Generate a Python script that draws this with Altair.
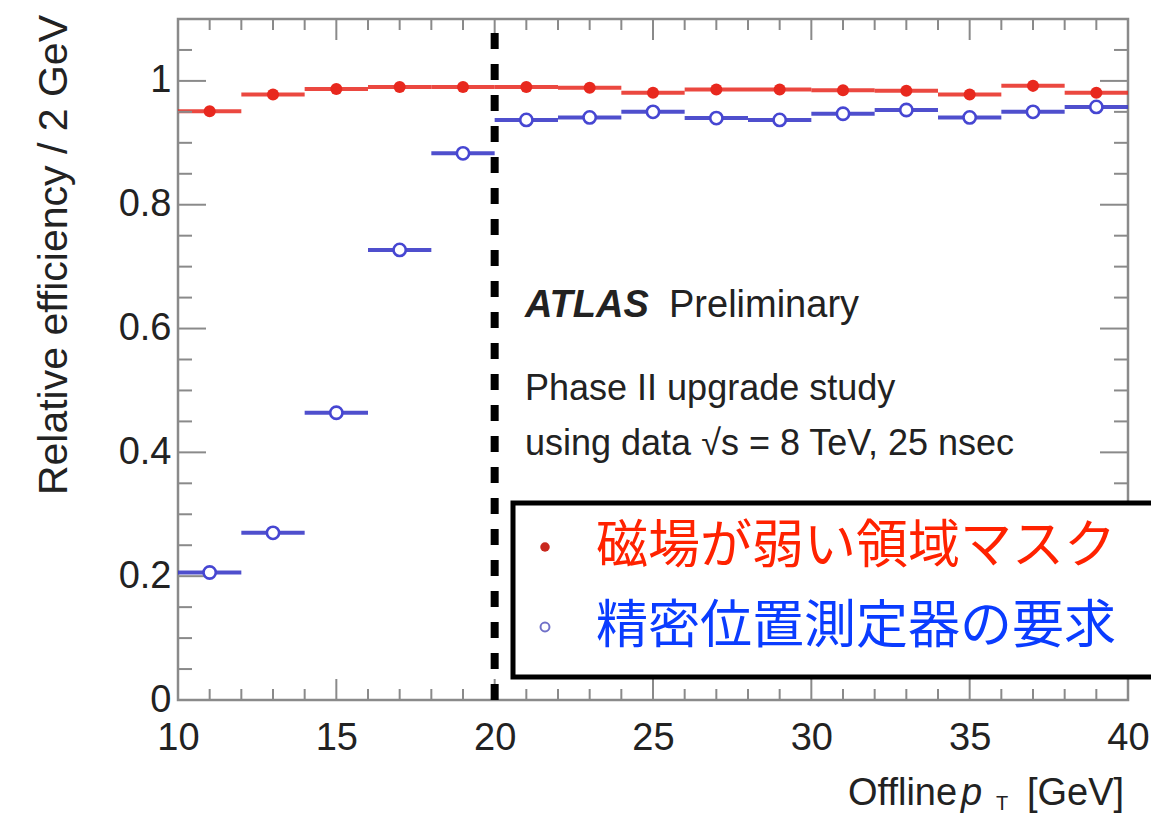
import altair as alt
import pandas as pd

# ---------------- data ----------------
pt_center = [11, 13, 15, 17, 19, 21, 23, 25, 27, 29, 31, 33, 35, 37, 39]
pt_lo = [10, 12, 14, 16, 18, 20, 22, 24, 26, 28, 30, 32, 34, 36, 38]
pt_hi = [12, 14, 16, 18, 20, 22, 24, 26, 28, 30, 32, 34, 36, 38, 40]
eff_mask = [0.951, 0.978, 0.987, 0.990, 0.990, 0.990, 0.989, 0.981,
            0.986, 0.986, 0.985, 0.984, 0.978, 0.992, 0.981]
eff_precision = [0.206, 0.270, 0.464, 0.727, 0.883, 0.937, 0.941, 0.950,
                 0.940, 0.937, 0.947, 0.953, 0.941, 0.950, 0.958]

y_major = [0, 0.2, 0.4, 0.6, 0.8, 1.0]
y_minor = [0.05, 0.1, 0.15, 0.25, 0.3, 0.35, 0.45, 0.5, 0.55, 0.65, 0.7,
           0.75, 0.85, 0.9, 0.95, 1.05]
x_major = [10, 15, 20, 25, 30, 35, 40]
x_minor = [11, 12, 13, 14, 16, 17, 18, 19, 21, 22, 23, 24, 26, 27, 28, 29,
           31, 32, 33, 34, 36, 37, 38, 39]
cut_pt = 20

label_mask = "磁場が弱い領域マスク"
label_precision = "精密位置測定器の要求"

# ---------------- style ----------------
W, H = 950, 681
RED = "#e8281e"
BLUE = "#3c3cc8"
FRAME = "#8a8a8a"
FONT = "Liberation Sans"
JFONT = "Noto Sans CJK JP"

xs = alt.Scale(domain=[10, 40], nice=False, zero=False)
ys = alt.Scale(domain=[0, 1.1], nice=False, zero=False)

df_mask = pd.DataFrame({"pt": pt_center, "lo": pt_lo, "hi": pt_hi, "eff": eff_mask})
df_prec = pd.DataFrame({"pt": pt_center, "lo": pt_lo, "hi": pt_hi, "eff": eff_precision})

xaxis = alt.Axis(values=x_major, format="d", labelFontSize=38, labelFont=FONT,
                 labelColor="#222", labelPadding=19, ticks=False, tickSize=0,
                 domain=False, grid=False, title=None, labelFlush=False)
yaxis = alt.Axis(values=y_major, format="~g", labelFontSize=38, labelFont=FONT,
                 labelColor="#222", labelPadding=7, ticks=False, tickSize=0,
                 domain=False, grid=False, title=None)

base_m = alt.Chart(df_mask)
base_p = alt.Chart(df_prec)

err_m = base_m.mark_rule(color=RED, strokeWidth=4, opacity=0.85).encode(
    x=alt.X("lo:Q", scale=xs, axis=xaxis), x2="hi:Q",
    y=alt.Y("eff:Q", scale=ys, axis=yaxis))
err_p = base_p.mark_rule(color=BLUE, strokeWidth=4, opacity=0.9).encode(
    x=alt.X("lo:Q", scale=xs), x2="hi:Q", y=alt.Y("eff:Q", scale=ys))
pts_m = base_m.mark_circle(color=RED, size=145, opacity=1).encode(
    x=alt.X("pt:Q", scale=xs), y=alt.Y("eff:Q", scale=ys))
pts_p = base_p.mark_point(shape="circle", filled=True, fill="white", stroke="#4646d2",
                          strokeWidth=2.6, size=150, opacity=1).encode(
    x=alt.X("pt:Q", scale=xs), y=alt.Y("eff:Q", scale=ys))

cut = alt.Chart(pd.DataFrame({"pt": [cut_pt]})).mark_rule(
    color="black", strokeWidth=8, strokeDash=[16, 15]).encode(
    x=alt.X("pt:Q", scale=xs), y=alt.datum(0, scale=ys), y2=alt.datum(1.1))

# ---- inward ticks on all four sides ----
dy_maj = pd.DataFrame({"v": y_major})
dy_min = pd.DataFrame({"v": y_minor})
dx_maj = pd.DataFrame({"v": x_major})
dx_min = pd.DataFrame({"v": x_minor})
tk = dict(color=FRAME, strokeWidth=2)
ticks = [
    alt.Chart(dy_maj).mark_rule(**tk).encode(y=alt.Y("v:Q", scale=ys), x=alt.value(0), x2=alt.value(28)),
    alt.Chart(dy_min).mark_rule(**tk).encode(y=alt.Y("v:Q", scale=ys), x=alt.value(0), x2=alt.value(14)),
    alt.Chart(dy_maj).mark_rule(**tk).encode(y=alt.Y("v:Q", scale=ys), x=alt.value(W), x2=alt.value(W - 28)),
    alt.Chart(dy_min).mark_rule(**tk).encode(y=alt.Y("v:Q", scale=ys), x=alt.value(W), x2=alt.value(W - 14)),
    alt.Chart(dx_maj).mark_rule(**tk).encode(x=alt.X("v:Q", scale=xs), y=alt.value(H), y2=alt.value(H - 21)),
    alt.Chart(dx_min).mark_rule(**tk).encode(x=alt.X("v:Q", scale=xs), y=alt.value(H), y2=alt.value(H - 11)),
    alt.Chart(dx_maj).mark_rule(**tk).encode(x=alt.X("v:Q", scale=xs), y=alt.value(0), y2=alt.value(21)),
    alt.Chart(dx_min).mark_rule(**tk).encode(x=alt.X("v:Q", scale=xs), y=alt.value(0), y2=alt.value(11)),
]

def txt(text, x, y, size, color="#222", font=FONT, align="left", baseline="alphabetic",
        style="normal", weight="normal", angle=0):
    kw = dict(text=text, font=font, fontSize=size, color=color, align=align,
              baseline=baseline, fontStyle=style, fontWeight=weight)
    if angle:
        kw["angle"] = angle
    return alt.Chart(pd.DataFrame({"a": [0]})).mark_text(**kw).encode(
        x=alt.value(x), y=alt.value(y))

texts = [
    # axis titles
    txt("Relative efficiency / 2 GeV", -123, -4, 41, align="right", baseline="middle", angle=270),
    txt("Offline", 670, 786, 38),
    txt("p", 783, 786, 38, style="italic"),
    txt("T", 818, 791, 20),
    txt("[GeV]", 849, 786, 38),
    # ATLAS labels
    txt("ATLAS", 347, 298, 38, style="italic", weight="bold"),
    txt("Preliminary", 491, 298, 38),
    txt("Phase II upgrade study", 347, 381, 36),
    txt("using data √s = 8 TeV, 25 nsec", 347, 436, 36),
]

# legend box
legend_box = alt.Chart(pd.DataFrame({"a": [0]})).mark_rect(
    fill="white", stroke="black", strokeWidth=5).encode(
    x=alt.value(335), x2=alt.value(985), y=alt.value(484), y2=alt.value(658))
leg_m = alt.Chart(pd.DataFrame({"a": [0]})).mark_circle(color="#c8281e", size=90, opacity=1).encode(
    x=alt.value(367), y=alt.value(528))
leg_p = alt.Chart(pd.DataFrame({"a": [0]})).mark_point(
    shape="circle", filled=True, fill="white", stroke="#7070c8", strokeWidth=2, size=80, opacity=1).encode(
    x=alt.value(367), y=alt.value(608))
leg_texts = [
    txt(label_mask, 418, 528, 52, color="#ff2200", font=JFONT, baseline="middle"),
    txt(label_precision, 418, 608, 52, color="#0a3cff", font=JFONT, baseline="middle"),
]

chart = alt.layer(
    err_m, err_p, *ticks, cut, pts_m, pts_p, *texts, legend_box, leg_m, leg_p, *leg_texts
).properties(
    width=W, height=H,
    padding={"left": 178, "top": 19, "right": 23, "bottom": 114},
    autosize=alt.AutoSizeParams(type="none"),
    background="white",
).configure_view(stroke=FRAME, strokeWidth=2.5)

chart.save("out.html", embed_options={"renderer": "svg", "actions": False})
